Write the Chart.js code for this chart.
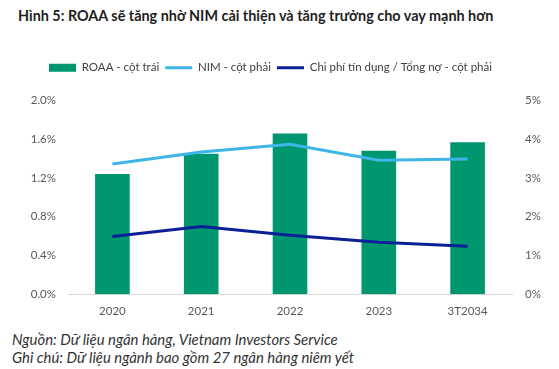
<!DOCTYPE html>
<html><head><meta charset="utf-8">
<script src="https://cdn.jsdelivr.net/npm/chart.js@4.4.1/dist/chart.umd.min.js"></script>
<style>
html,body{margin:0;padding:0;background:#fff;width:559px;height:369px;overflow:hidden;font-family:Lato,"Liberation Sans",sans-serif;}
#title{position:absolute;left:18px;top:7px;font-weight:bold;font-size:14.4px;color:#1e1e1e;white-space:nowrap;}
#notes{position:absolute;left:12px;top:330px;font-style:italic;font-size:14.9px;color:#333;line-height:18px;white-space:nowrap;}
#wrap{position:absolute;left:0;top:56px;width:559px;height:272px;}
</style></head><body>
<div id="title">Hình 5: ROAA sẽ tăng nhờ NIM cải thiện và tăng trưởng cho vay mạnh hơn</div>
<div id="wrap"><canvas id="c"></canvas></div>
<div id="notes">Nguồn: Dữ liệu ngân hàng, Vietnam Investors Service<br>Ghi chú: Dữ liệu ngành bao gồm 27 ngân hàng niêm yết</div>
<script>
const categories = ["2020","2021","2022","2023","3T2034"];
const roaa = [1.24, 1.45, 1.66, 1.48, 1.57];
const nim = [3.36, 3.67, 3.87, 3.46, 3.49];
const creditCost = [1.49, 1.75, 1.52, 1.34, 1.24];
const seriesNames = ["ROAA - cột trái","NIM - cột phải","Chi phí tín dụng / Tổng nợ - cột phải"];

const green = "#009670", light = "#3db5e6", navy = "#0b1f96";

const legendMargin = {id:'legendMargin',
  beforeInit(chart){
    const orig = chart.legend.fit;
    chart.legend.fit = function(){ orig.bind(chart.legend)(); this.height += 17; };
  },
  afterLayout(chart){ chart.legend.left -= 9; chart.legend.right -= 9; }
};

new Chart(document.getElementById('c'), {
  data: {
    labels: categories,
    datasets: [
      {type:'line', label:seriesNames[1], data:nim, yAxisID:'y1', borderColor:light, backgroundColor:light, borderWidth:3, pointRadius:0, tension:0, order:1},
      {type:'line', label:seriesNames[2], data:creditCost, yAxisID:'y1', borderColor:navy, backgroundColor:navy, borderWidth:3, pointRadius:0, tension:0, order:0},
      {type:'bar', label:seriesNames[0], data:roaa, yAxisID:'y', backgroundColor:green, categoryPercentage:1, barPercentage:0.39, order:2}
    ]
  },
  options: {
    responsive:true, maintainAspectRatio:false, animation:false,
    layout:{padding:{left:0,right:0,top:0,bottom:0}},
    plugins:{
      tooltip:{enabled:false},
      legend:{
        position:'top',
        labels:{
          font:{family:'Lato', size:11.5}, color:'#404040',
          usePointStyle:true, pointStyleWidth:27, boxHeight:8, padding:6,
          generateLabels(chart){
            return [
              {text:seriesNames[0], fillStyle:green, strokeStyle:green, lineWidth:0, pointStyle:'rect', datasetIndex:2, fontColor:'#404040'},
              {text:seriesNames[1], fillStyle:light, strokeStyle:light, lineWidth:3, pointStyle:'line', datasetIndex:0, fontColor:'#404040'},
              {text:seriesNames[2], fillStyle:navy, strokeStyle:navy, lineWidth:3, pointStyle:'line', datasetIndex:1, fontColor:'#404040'}
            ];
          }
        }
      }
    },
    scales:{
      x:{
        grid:{display:false, drawTicks:false},
        border:{display:true, color:'#d9d9d9', width:1},
        ticks:{color:'#595959', font:{family:'Lato', size:11.5}, padding:10, maxRotation:0}
      },
      y:{
        position:'left', min:0, max:2.0,
        grid:{display:false, drawTicks:false}, border:{display:false},
        ticks:{stepSize:0.4, color:'#595959', font:{family:'Lato', size:11.5}, padding:12,
          callback:v=>v.toFixed(1)+'%'},
        afterFit:s=>{s.width=68;}
      },
      y1:{
        position:'right', min:0, max:5,
        grid:{display:false, drawTicks:false}, border:{display:false},
        ticks:{stepSize:1, color:'#595959', font:{family:'Lato', size:11.5}, padding:13,
          callback:v=>v+'%'},
        afterFit:s=>{s.width=47;}
      }
    }
  },
  plugins:[legendMargin]
});
</script>
</body></html>
